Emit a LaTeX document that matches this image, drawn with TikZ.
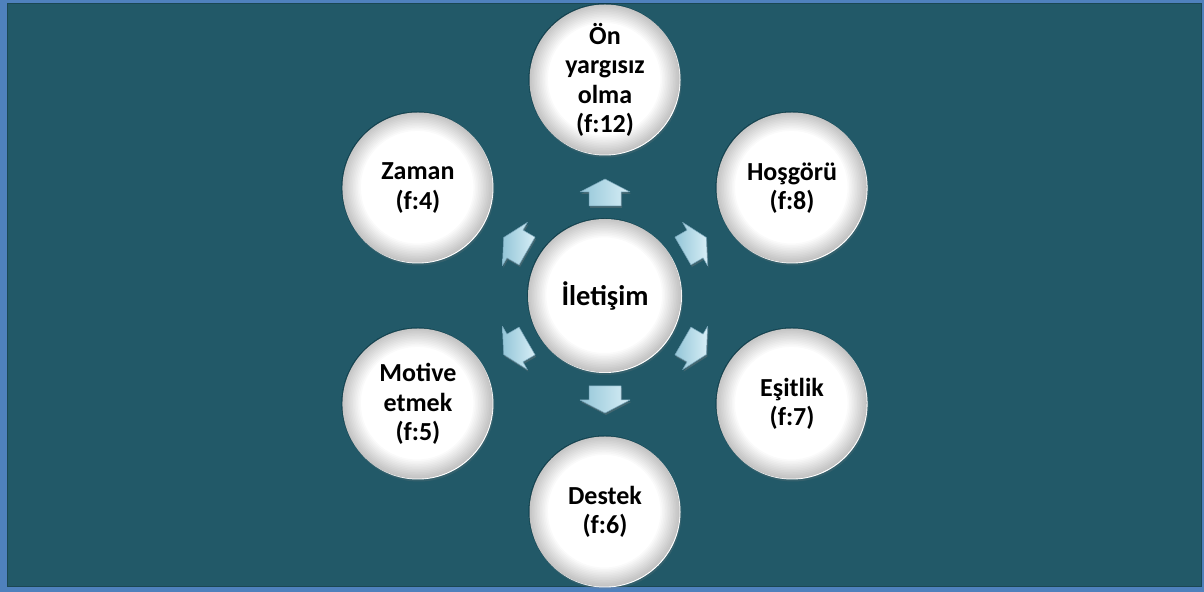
\documentclass[tikz,border=0pt]{standalone}
\usepackage{fontspec}
\setmainfont{Carlito}
\usetikzlibrary{shadows,calc}
\definecolor{bord}{RGB}{79,129,189}
\definecolor{bg}{RGB}{34,89,104}
\definecolor{arrA}{RGB}{215,238,246}
\definecolor{arrB}{RGB}{148,198,216}
\definecolor{arrE}{RGB}{120,165,185}
\tikzset{
  bubble/.style={circle, minimum size=151bp, inner sep=0pt, fill=white,
    drop shadow={opacity=0.2, shadow xshift=1bp, shadow yshift=-2bp}},
  hub/.style={bubble, minimum size=154bp},
  rim/.style={black, opacity=0.02, even odd rule},
  outertext/.style={font=\bfseries\fontsize{26bp}{29.5bp}\selectfont, align=center, text=black},
  hubtext/.style={font=\bfseries\fontsize{28.5bp}{33bp}\selectfont, align=center, text=black},
  blockarrow/.style={left color=arrB, right color=arrA, draw=arrE, line width=0.5bp, line join=round,
    drop shadow={opacity=0.35, shadow xshift=1bp, shadow yshift=-2bp}}
}
\begin{document}
\begin{tikzpicture}[x=1bp,y=1bp]
\useasboundingbox (0,0) rectangle (1204,592);
\fill[bord] (0,0) rectangle (1204,592);
\fill[bg] (7,6) rectangle (1201,589);
\draw[bg!80!black, line width=0.6bp] (7,6) rectangle (1201,589);

\node[hub] (c) at (605,296) {};
\node[bubble] (n1) at ($(c)+(90:216)$) {};
\node[bubble] (n2) at ($(c)+(30:216)$) {};
\node[bubble] (n3) at ($(c)+(-30:216)$) {};
\node[bubble] (n4) at ($(c)+(-90:216)$) {};
\node[bubble] (n5) at ($(c)+(-150:216)$) {};
\node[bubble] (n6) at ($(c)+(150:216)$) {};

\foreach \k in {1,...,12}{
  \fill[rim] ($(c.center)+(-0.8,0.8)$) circle (77) circle ({77-1.6*\k});
  \foreach \n in {n1,n2,n3,n4,n5,n6}{
    \fill[rim] ($(\n.center)+(-0.8,0.8)$) circle (75.5) circle ({75.5-1.6*\k});
  }
}

\node[hubtext] (t0) at (c.center) {İletişim};
\node[outertext] (t1) at (n1.center) {Ön\\yargısız\\olma\\(f:12)};
\node[outertext] (t2) at (n2.center) {Hoşgörü\\(f:8)};
\node[outertext] (t3) at (n3.center) {Eşitlik\\(f:7)};
\node[outertext] (t4) at (n4.center) {Destek\\(f:6)};
\node[outertext] (t5) at (n5.center) {Motive\\etmek\\(f:5)};
\node[outertext] (t6) at (n6.center) {Zaman\\(f:4)};

\foreach \a in {90,30,-30,-90,-150,150}{
  \begin{scope}[shift={(c.center)}, rotate=\a]
    \path[blockarrow] (90,-16) -- (104,-16) -- (104,-25) -- (117,0) -- (104,25) -- (104,16) -- (90,16) -- cycle;
  \end{scope}
}
\end{tikzpicture}
\end{document}
